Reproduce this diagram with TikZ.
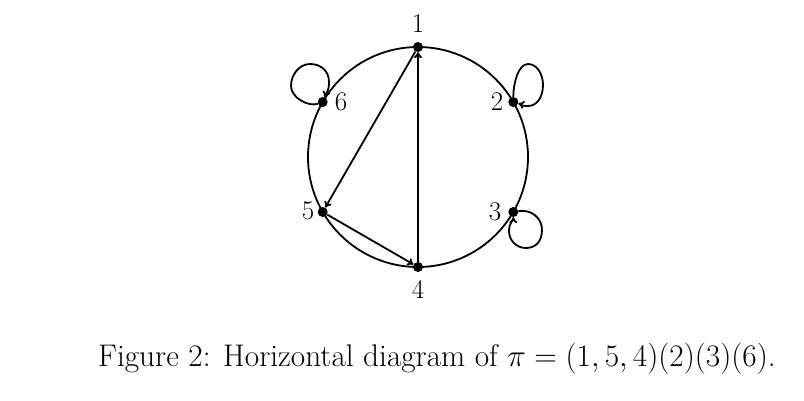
\RequirePackage{fix-cm}
\documentclass[tikz,border=0pt]{standalone}
\usetikzlibrary{arrows.meta}
\begin{document}
\begin{tikzpicture}[x=1pt,y=-1pt,
  dot/.style={circle,fill=black,inner sep=0pt,minimum size=10pt},
  lab/.style={font=\fontsize{27}{30}\selectfont,inner sep=0pt},
  edge/.style={line width=1.8pt},
  arr/.style={edge,-{To[length=6pt,width=8pt]}}]
\useasboundingbox (0,0) rectangle (804,400);
\coordinate (c) at (418,157);
\draw[edge] (c) circle[radius=110];
\node[dot] (n1) at (418,47) {};
\node[dot] (n2) at (513.3,102) {};
\node[dot] (n3) at (513.3,212) {};
\node[dot] (n4) at (418,267) {};
\node[dot] (n5) at (322.7,212) {};
\node[dot] (n6) at (322.7,102) {};
\node[lab] (l1) at (418,24) {1};
\node[lab] (l2) at (497,102) {2};
\node[lab] (l3) at (495,212) {3};
\node[lab] (l4) at (418,289) {4};
\node[lab] (l5) at (308,211) {5};
\node[lab] (l6) at (341,102) {6};
\draw[arr] (n1) -- (n5);
\draw[arr] (n5) -- (n4);
\draw[arr,line width=2.1pt] (n4) -- (n1);
% loop at 6
\coordinate (a6) at (291,86);
\coordinate (b6) at (310,64);
\coordinate (d6) at (329,82);
\draw[arr] (n6) .. controls +(-14,5) and +(0,12) .. (a6)
  .. controls +(0,-11) and +(-11,0) .. (b6)
  .. controls +(11,0) and +(0,-11) .. (d6)
  .. controls +(0,10) and +(3,-8) .. (n6);
% loop at 2
\coordinate (a2) at (528,64);
\coordinate (b2) at (543,85);
\coordinate (d2) at (528,106);
\draw[arr] (n2) .. controls +(0,-18) and +(-10,0) .. (a2)
  .. controls +(9,0) and +(0,-11) .. (b2)
  .. controls +(0,12) and +(9,0) .. (d2)
  .. controls +(-8,0) and +(7,2) .. (n2);
% loop at 3
\coordinate (a3) at (542,230);
\coordinate (b3) at (526,248);
\coordinate (d3) at (509,231);
\draw[arr] (n3) .. controls +(18,-3) and +(0,-12) .. (a3)
  .. controls +(0,11) and +(10,0) .. (b3)
  .. controls +(-10,0) and +(0,9) .. (d3)
  .. controls +(0,-8) and +(0,8) .. (n3);
\node[anchor=base,inner sep=0pt,font=\fontsize{31.3}{36}\selectfont] (cap) at (437,366)
  {Figure 2: Horizontal diagram of $\pi = (1, 5, 4)(2)(3)(6)$.};
\end{tikzpicture}
\end{document}
